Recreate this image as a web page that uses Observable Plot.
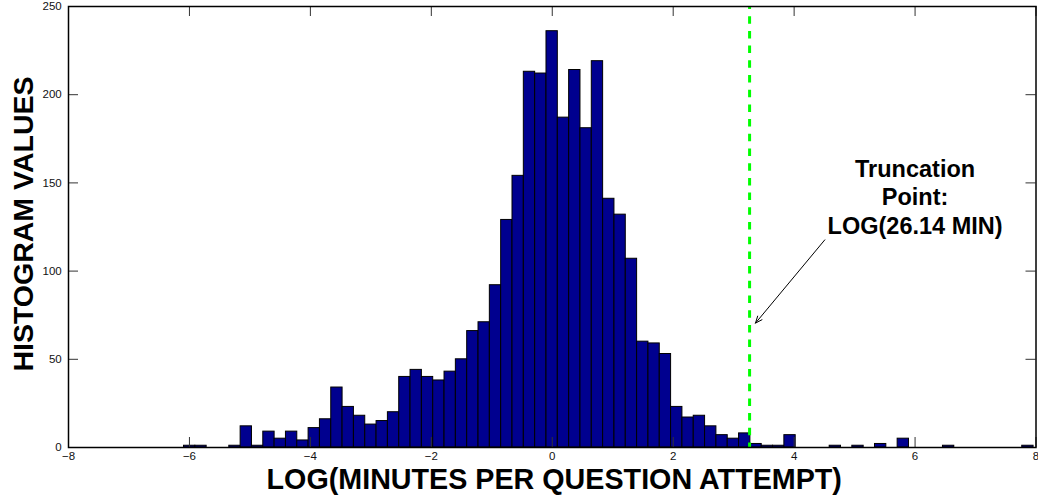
<!DOCTYPE html>
<html>
<head>
<meta charset="utf-8">
<script src="https://cdn.jsdelivr.net/npm/d3@7"></script>
<script src="https://cdn.jsdelivr.net/npm/@observablehq/plot@0.6"></script>
<style>
  html, body { margin: 0; padding: 0; background: #ffffff; }
  #chart svg { display: block; }
</style>
</head>
<body>
<div id="chart"></div>
<script>
// Histogram range (data min / max) and bin counts (75 equal bins)
const histMin = -6.09;
const histMax = 7.96;
const counts = [
  1, 1, 0, 0, 1, 12, 1, 9, 5, 9,
  4, 11, 16, 34, 23, 18, 13, 15, 20, 40,
  44, 40, 38, 43, 50, 66, 71, 92, 129, 154,
  213, 212, 236, 187, 214, 181, 219, 141, 132, 107,
  60, 59, 53, 23, 17, 18, 12, 7, 5, 8,
  2, 1, 1, 7, 0, 0, 0, 1, 0, 1,
  0, 2, 0, 5, 0, 0, 0, 1, 0, 0,
  0, 0, 0, 0, 1
];
const xTicks = [-8, -6, -4, -2, 0, 2, 4, 6, 8];
const yTicks = [0, 50, 100, 150, 200, 250];
const truncationMinutes = [26.14];
const xLabel = "LOG(MINUTES PER QUESTION ATTEMPT)";
const yLabel = "HISTOGRAM VALUES";
const noteLines = ["Truncation", "Point:", "LOG(26.14 MIN)"];

const binWidth = (histMax - histMin) / counts.length;
const bins = counts.map((c, i) => ({
  x1: histMin + i * binWidth,
  x2: histMin + (i + 1) * binWidth,
  count: c
}));
const truncation = truncationMinutes.map(m => Math.log(m));

const W = 1038, H = 496;
const mL = 68, mR = 2.5, mT = 6, mB = 49;
const innerW = W - mL - mR, innerH = H - mT - mB;
const tick = 10;
const font = "'Liberation Sans', Arial, Helvetica, sans-serif";

const chart = Plot.plot({
  width: W,
  height: H,
  marginLeft: mL,
  marginRight: mR,
  marginTop: mT,
  marginBottom: mB,
  style: { fontFamily: font, fontSize: "11.5px", color: "#000", background: "#fff", overflow: "visible" },
  x: { domain: [-8, 8], axis: null },
  y: { domain: [0, 250], axis: null },
  marks: [
    Plot.rectY(bins, { x1: "x1", x2: "x2", y: "count", fill: "#00008f", stroke: "#000", strokeWidth: 1 }),
    Plot.ruleX(truncation, { y1: 0, y2: 250, stroke: "#00ff00", strokeWidth: 3, strokeDasharray: "7.5,7.2", strokeDashoffset: 3 }),
    // inward ticks on all four sides
    Plot.ruleX(xTicks, { insetTop: innerH - tick, stroke: "#333", strokeWidth: 1 }),
    Plot.ruleX(xTicks, { insetBottom: innerH - tick, stroke: "#333", strokeWidth: 1 }),
    Plot.ruleY(yTicks, { insetRight: innerW - tick, stroke: "#333", strokeWidth: 1 }),
    Plot.ruleY(yTicks, { insetLeft: innerW - tick, stroke: "#333", strokeWidth: 1 }),
    Plot.frame({ stroke: "#000", strokeWidth: 1.5 }),
    // tick labels
    Plot.axisX({ ticks: xTicks, anchor: "bottom", tickSize: 0, tickPadding: 4, label: null, fontSize: 11.5, fill: "#111" }),
    Plot.axisY({ ticks: yTicks, anchor: "left", tickSize: 0, tickPadding: 6.8, label: null, fontSize: 11.5, fill: "#111" }),
    // axis titles
    Plot.text([xLabel], { frameAnchor: "bottom", dy: 41, dx: 2, lineAnchor: "bottom", textAnchor: "middle", fontSize: 28.7, fontWeight: "bold", fill: "#000" }),
    Plot.text([yLabel], { frameAnchor: "left", rotate: -90, dx: -35.5, dy: -3, lineAnchor: "bottom", textAnchor: "middle", fontSize: 28.5, fontWeight: "bold", fill: "#000" }),
    // annotation
    Plot.text([noteLines.join("\n")], { x: 6.0, y: 121, lineAnchor: "bottom", lineHeight: 1.22, textAnchor: "middle", fontSize: 23.5, fontWeight: "bold", fill: "#000" }),
    Plot.arrow([{ x1: 4.507, y1: 117.7, x2: 3.361, y2: 70.5 }], { x1: "x1", y1: "y1", x2: "x2", y2: "y2", stroke: "#000", strokeWidth: 1, headLength: 11, headAngle: 45 })
  ]
});

document.getElementById("chart").appendChild(chart);
</script>
</body>
</html>
